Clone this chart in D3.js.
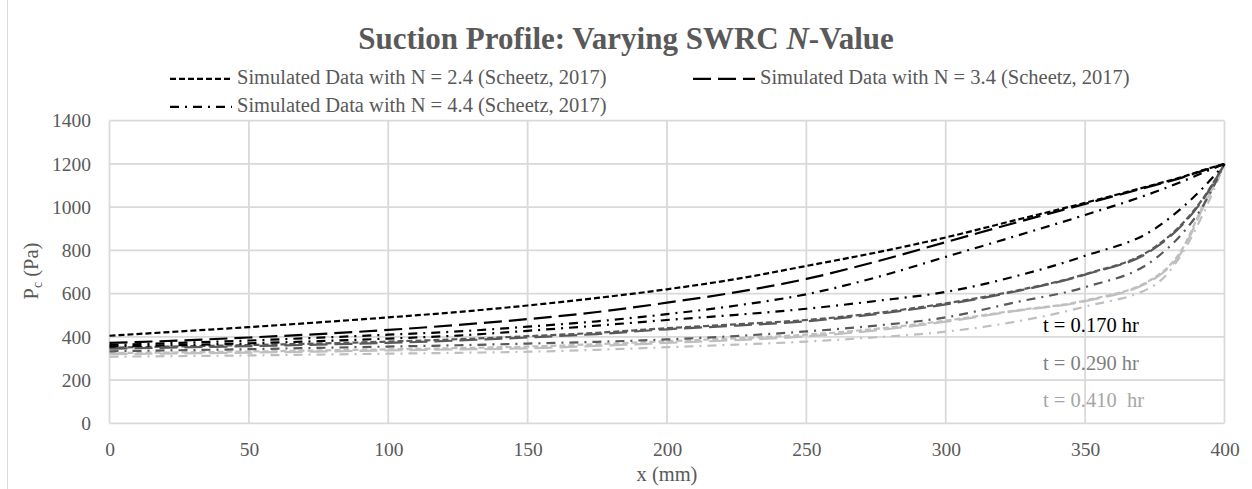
<!DOCTYPE html>
<html>
<head>
<meta charset="utf-8">
<script src="https://cdn.jsdelivr.net/npm/d3@7"></script>
<style>
  html, body { margin: 0; padding: 0; background: #fff; }
  svg { display: block; font-family: "Liberation Serif", "Times New Roman", serif; }
</style>
</head>
<body>
<svg id="chart" width="1252" height="489"></svg>
<script>
// Distance along the specimen (mm)
const xMm = [0, 25, 50, 75, 100, 125, 150, 175, 200, 225, 250, 275, 300, 325, 350, 375, 385, 392, 400];

// Capillary suction Pc (Pa), t = 0.170 hr
const pcN24t170 = [405, 425, 445, 467, 490, 515, 545, 580, 620, 668, 728, 790, 860, 940, 1020, 1105, 1140, 1170, 1200];
const pcN34t170 = [372, 383, 397, 413, 432, 455, 482, 515, 558, 607, 668, 748, 838, 928, 1015, 1102, 1138, 1168, 1200];
const pcN44t170 = [362, 372, 383, 396, 410, 425, 447, 472, 505, 545, 597, 675, 770, 866, 964, 1070, 1120, 1158, 1200];
const pcN44t170b = [355, 362, 370, 380, 392, 406, 428, 452, 478, 502, 530, 566, 608, 680, 775, 900, 1000, 1085, 1200];
// t = 0.290 hr
const pcN24t290 = [350, 356, 362, 369, 378, 389, 403, 419, 440, 458, 478, 510, 555, 613, 690, 815, 925, 1035, 1200];
const pcN34t290 = [345, 351, 357, 364, 372, 383, 397, 413, 435, 452, 472, 505, 550, 610, 688, 810, 920, 1030, 1200];
const pcN44t290 = [333, 338, 343, 349, 355, 361, 369, 377, 388, 404, 425, 452, 490, 560, 630, 760, 880, 1000, 1200];
// t = 0.410 hr
const pcN24t410 = [325, 328, 332, 337, 342, 348, 355, 366, 380, 393, 410, 437, 475, 522, 568, 675, 810, 1000, 1200];
const pcN34t410 = [320, 323, 327, 332, 337, 342, 347, 358, 372, 385, 402, 430, 470, 520, 565, 670, 800, 990, 1200];
const pcN44t410 = [308, 311, 314, 318, 322, 326, 331, 340, 352, 364, 378, 398, 424, 470, 540, 640, 790, 960, 1200];

const xTicks = [0, 50, 100, 150, 200, 250, 300, 350, 400];
const yTicks = [0, 200, 400, 600, 800, 1000, 1200, 1400];
const legendLabels = [
  "Simulated Data with N = 2.4 (Scheetz, 2017)",
  "Simulated Data with N = 3.4 (Scheetz, 2017)",
  "Simulated Data with N = 4.4 (Scheetz, 2017)"
];
const timeLabels = ["t = 0.170 hr", "t = 0.290 hr", "t = 0.410  hr"];

// Line style per N value, colour per time step
const dashByN = { n24: "6,3", n34: "18,7", n44: "9,6,2,6" };
const colourByTime = ["#000000", "#595959", "#bfbfbf"];
const labelColourByTime = ["#000000", "#7f7f7f", "#a6a6a6"];

const series = [
  { values: pcN44t410, n: "n44", time: 2 },
  { values: pcN34t410, n: "n34", time: 2 },
  { values: pcN24t410, n: "n24", time: 2 },
  { values: pcN44t290, n: "n44", time: 1 },
  { values: pcN34t290, n: "n34", time: 1 },
  { values: pcN24t290, n: "n24", time: 1 },
  { values: pcN44t170b, n: "n44", time: 0 },
  { values: pcN44t170, n: "n44", time: 0 },
  { values: pcN34t170, n: "n34", time: 0 },
  { values: pcN24t170, n: "n24", time: 0 }
];

const svg = d3.select("#chart");
const textGrey = "#595959";
const gridGrey = "#d9d9d9";
const labelSize = "20.5px";

// Outer chart frame
svg.append("rect")
  .attr("x", 7.5).attr("y", -2).attr("width", 1300).attr("height", 600)
  .attr("fill", "none").attr("stroke", gridGrey).attr("stroke-width", 1);

const x = d3.scaleLinear().domain([0, 400]).range([109.5, 1224.5]);
const y = d3.scaleLinear().domain([0, 1400]).range([423.3, 120.7]);

// Gridlines
const grid = svg.append("g");
grid.selectAll("line.h").data(yTicks).join("line")
  .attr("x1", x(0)).attr("x2", x(400))
  .attr("y1", d => y(d)).attr("y2", d => y(d))
  .attr("stroke", gridGrey).attr("stroke-width", 1.8);
grid.selectAll("line.v").data(xTicks).join("line")
  .attr("y1", y(0)).attr("y2", y(1400))
  .attr("x1", d => x(d)).attr("x2", d => x(d))
  .attr("stroke", gridGrey).attr("stroke-width", 1.8);

// Axes (labels only; lines come from the grid)
const xAxis = svg.append("g").attr("transform", `translate(0,${y(0)})`)
  .call(d3.axisBottom(x).tickValues(xTicks).tickFormat(d3.format("d")).tickSize(0).tickPadding(19));
const yAxis = svg.append("g").attr("transform", `translate(${x(0)},0)`)
  .call(d3.axisLeft(y).tickValues(yTicks).tickFormat(d3.format("d")).tickSize(0).tickPadding(18.5));
[xAxis, yAxis].forEach(a => {
  a.select(".domain").remove();
  a.selectAll("text").attr("fill", textGrey).style("font-size", "19.5px")
    .style("font-family", "'Liberation Serif', serif");
});

// Curves
const line = d3.line()
  .x((d, i) => x(xMm[i]))
  .y(d => y(d))
  .curve(d3.curveMonotoneX);

svg.append("g").selectAll("path").data(series).join("path")
  .attr("d", d => line(d.values))
  .attr("fill", "none")
  .attr("stroke", d => colourByTime[d.time])
  .attr("stroke-width", 2.2)
  .attr("stroke-dasharray", d => dashByN[d.n]);

// Title
const title = svg.append("text")
  .attr("x", 626).attr("y", 49).attr("text-anchor", "middle")
  .attr("fill", textGrey).style("font-size", "31px").style("font-weight", "bold");
title.append("tspan").text("Suction Profile: Varying SWRC ");
title.append("tspan").style("font-style", "italic").text("N");
title.append("tspan").text("-Value");

// Legend
const legendItems = [
  { n: "n24", label: legendLabels[0], lx: 170, ly: 84.3 },
  { n: "n34", label: legendLabels[1], lx: 693, ly: 84.3 },
  { n: "n44", label: legendLabels[2], lx: 170, ly: 112.3 }
];
const legend = svg.append("g");
legendItems.forEach(it => {
  legend.append("line")
    .attr("x1", it.lx).attr("x2", it.lx + 62)
    .attr("y1", it.ly - 5.5).attr("y2", it.ly - 5.5)
    .attr("stroke", "#000").attr("stroke-width", 2.2)
    .attr("stroke-dasharray", dashByN[it.n]);
  legend.append("text")
    .attr("x", it.lx + 67).attr("y", it.ly)
    .attr("fill", textGrey).style("font-size", labelSize)
    .text(it.label);
});

// Axis titles
svg.append("text")
  .attr("x", 667).attr("y", 481).attr("text-anchor", "middle")
  .attr("fill", textGrey).style("font-size", labelSize)
  .text("x (mm)");
const yTitle = svg.append("text")
  .attr("transform", "translate(38,271) rotate(-90)")
  .attr("text-anchor", "middle")
  .attr("fill", textGrey).style("font-size", labelSize);
yTitle.append("tspan").text("P");
yTitle.append("tspan").attr("dy", 4).style("font-size", "14px").text("c");
yTitle.append("tspan").attr("dy", -4).text(" (Pa)");

// Time annotations
svg.append("g").selectAll("text").data(timeLabels).join("text")
  .attr("x", 1043)
  .attr("y", (d, i) => 331.7 + i * 37.8)
  .attr("fill", (d, i) => labelColourByTime[i])
  .style("font-size", labelSize)
  .style("white-space", "pre")
  .attr("xml:space", "preserve")
  .text(d => d);
</script>
</body>
</html>
